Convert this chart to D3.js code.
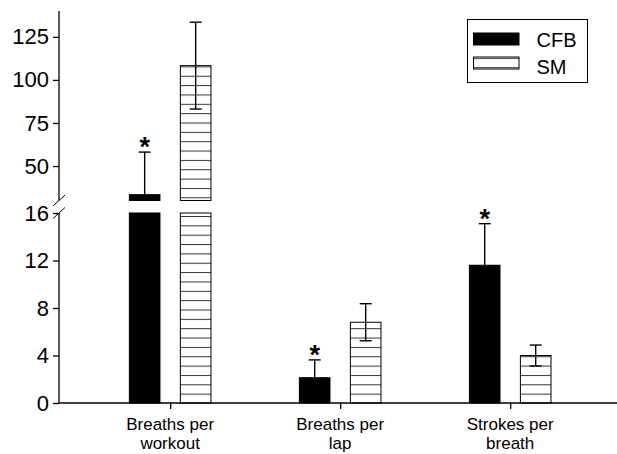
<!DOCTYPE html>
<html lang="en">
<head>
    <meta charset="UTF-8">
    <title>Breathing chart</title>
    <script src="https://d3js.org/d3.v7.min.js"></script>
</head>
<style type="text/css">
    body { margin: 0; background: white; }
    svg text { font-family: "Liberation Sans", Arial, sans-serif; fill: black; }
</style>
<body>
<div id="chart"></div>
<script>
    // data
    var categories = [["Breaths per", "workout"], ["Breaths per", "lap"], ["Strokes per", "breath"]];
    var series = ["CFB", "SM"];
    var cfbMean = [33.4, 2.13, 11.6];
    var cfbErr = [24.7, 1.5, 3.5];
    var smMean = [108.3, 6.8, 4.0];
    var smErr = [25.2, 1.56, 0.88];
    var significant = [true, true, true];   // star over CFB
    var lowTicks = [0, 4, 8, 12, 16];
    var highTicks = [50, 75, 100, 125];
    var lowDomain = [0, 16];
    var highDomain = [30, 140];

    var width = 617, height = 454;
    var axisX = 59, axisBottom = 403, axisTop = 11;
    var lowTop = 213, highBottom = 200.5;

    var svg = d3.select("#chart").append("svg")
        .attr("width", width).attr("height", height);

    var defs = svg.append("defs");
    var pat = defs.append("pattern")
        .attr("id", "hatch")
        .attr("patternUnits", "userSpaceOnUse")
        .attr("x", 0).attr("y", axisBottom % 9.35)
        .attr("width", 10).attr("height", 9.35);
    pat.append("rect").attr("width", 10).attr("height", 9.35).style("fill", "white");
    pat.append("line").attr("x1", 0).attr("x2", 10).attr("y1", 0.5).attr("y2", 0.5)
        .style("stroke", "#333").style("stroke-width", 1);

    var yLow = d3.scaleLinear().domain(lowDomain).range([axisBottom, lowTop]);
    var yHigh = d3.scaleLinear().domain(highDomain).range([highBottom, axisTop]);
    var segments = [{scale: yLow, dom: lowDomain}, {scale: yHigh, dom: highDomain}];

    function yPos(v) {
        return v <= lowDomain[1] ? yLow(v) : yHigh(v);
    }

    var x0 = d3.scalePoint()
        .domain(d3.range(categories.length))
        .range([axisX, width])
        .padding(0.641)
        .align(0.51);

    var x1 = d3.scaleBand()
        .domain(series)
        .range([-45.9, 45.9])
        .paddingInner(0.4)
        .paddingOuter(0.1);

    var rows = [];
    categories.forEach(function (c, i) {
        rows.push({cat: i, s: "CFB", v: cfbMean[i], e: cfbErr[i], both: false, star: significant[i]});
        rows.push({cat: i, s: "SM", v: smMean[i], e: smErr[i], both: true, star: false});
    });

    // bars, split over the axis break
    var bars = svg.append("g");
    rows.forEach(function (d) {
        segments.forEach(function (seg) {
            if (d.v <= seg.dom[0]) return;
            var top = seg.scale(Math.min(d.v, seg.dom[1]));
            var bot = seg.scale(seg.dom[0]);
            bars.append("rect")
                .attr("x", x0(d.cat) + x1(d.s))
                .attr("y", top)
                .attr("width", x1.bandwidth())
                .attr("height", bot - top)
                .style("fill", d.s == "CFB" ? "black" : "url(#hatch)")
                .style("stroke", "black")
                .style("stroke-width", 1);
        });
    });

    // error bars
    var err = svg.append("g").style("stroke", "black").style("stroke-width", 1.4);
    rows.forEach(function (d) {
        var cx = x0(d.cat) + x1(d.s) + x1.bandwidth() / 2;
        var yUp = yPos(d.v + d.e);
        var yDn = d.both ? yPos(d.v - d.e) : yPos(d.v);
        err.append("line").attr("x1", cx).attr("x2", cx).attr("y1", yUp).attr("y2", yDn);
        err.append("line").attr("x1", cx - 6).attr("x2", cx + 6).attr("y1", yUp).attr("y2", yUp);
        if (d.both) {
            err.append("line").attr("x1", cx - 6).attr("x2", cx + 6).attr("y1", yDn).attr("y2", yDn);
        }
        if (d.star) {
            svg.append("text")
                .attr("x", cx).attr("y", yUp + 4)
                .attr("text-anchor", "middle")
                .style("font-size", "27px").style("font-weight", "bold")
                .text("*");
        }
    });

    // y axes
    var lowAxis = svg.append("g")
        .attr("transform", "translate(" + axisX + ",0)")
        .call(d3.axisLeft(yLow).tickValues(lowTicks).tickSize(6).tickPadding(4));
    var highAxis = svg.append("g")
        .attr("transform", "translate(" + axisX + ",0)")
        .call(d3.axisLeft(yHigh).tickValues(highTicks).tickSize(6).tickPadding(4));
    [lowAxis, highAxis].forEach(function (a) {
        a.select(".domain").remove();
        a.selectAll("line").style("stroke", "black").style("stroke-width", 1.3);
        a.selectAll("text").style("font-size", "22px").style("font-family", "Liberation Sans, Arial, sans-serif");
    });
    svg.append("line").attr("x1", axisX).attr("x2", axisX)
        .attr("y1", axisTop).attr("y2", highBottom)
        .style("stroke", "black").style("stroke-width", 1.3);
    svg.append("line").attr("x1", axisX).attr("x2", axisX)
        .attr("y1", lowTop).attr("y2", axisBottom)
        .style("stroke", "black").style("stroke-width", 1.3);

    // break marks
    [highBottom, lowTop].forEach(function (yb) {
        svg.append("line")
            .attr("x1", axisX - 6).attr("y1", yb + 5.5)
            .attr("x2", axisX + 6).attr("y2", yb - 5.5)
            .style("stroke", "black").style("stroke-width", 1);
    });

    // x axis
    var xAxis = svg.append("g")
        .attr("transform", "translate(0," + axisBottom + ")")
        .call(d3.axisBottom(x0).tickSize(6).tickFormat(""));
    xAxis.select(".domain").attr("d", "M" + axisX + ",0H" + width)
        .style("stroke", "black").style("stroke-width", 1.3);
    xAxis.selectAll(".tick line").style("stroke", "black").style("stroke-width", 1.3);

    svg.append("g").selectAll("text")
        .data(categories)
        .enter().append("text")
        .attr("x", function (d, i) { return x0(i); })
        .attr("y", axisBottom + 26.5)
        .attr("text-anchor", "middle")
        .style("font-size", "17px")
        .selectAll("tspan")
        .data(function (d) { return d; })
        .enter().append("tspan")
        .attr("x", function () { return d3.select(this.parentNode).attr("x"); })
        .attr("dy", function (d, j) { return j == 0 ? 0 : 19.5; })
        .text(function (d) { return d; });

    // legend
    var legend = svg.append("g").attr("transform", "translate(467.5,19.5)");
    legend.append("rect").attr("width", 120).attr("height", 63)
        .style("fill", "white").style("stroke", "black").style("stroke-width", 1);
    series.forEach(function (s, i) {
        legend.append("rect")
            .attr("x", 6).attr("y", 13.5 + i * 24)
            .attr("width", 45.5).attr("height", 12)
            .style("fill", s == "CFB" ? "black" : "url(#hatch)")
            .style("stroke", "black").style("stroke-width", 1);
        legend.append("text")
            .attr("x", 69).attr("y", 27 + i * 27)
            .style("font-size", "20px")
            .text(s);
    });
</script>
</body>
</html>
